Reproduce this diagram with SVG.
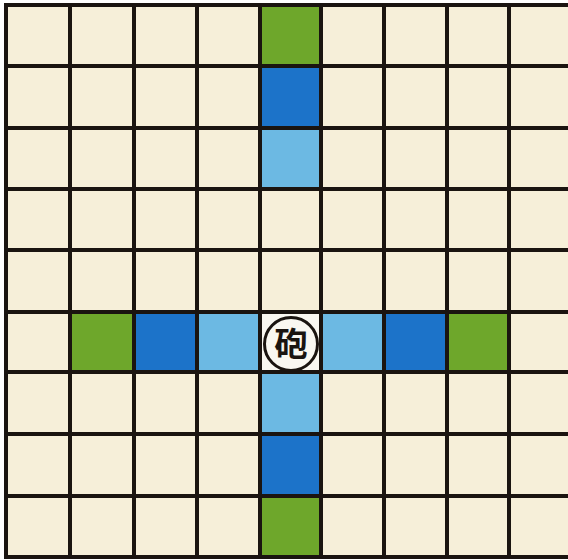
<svg xmlns="http://www.w3.org/2000/svg" width="568" height="560" viewBox="0 0 568 560">
<style>
.bg{fill:#f6efd9}
.g{fill:#6ea72b}
.d{fill:#1c73c9}
.l{fill:#6cb9e3}
.ln{stroke:#1a1410;stroke-width:4;fill:none;stroke-linecap:square}
.pc{fill:#f9f7f1;stroke:#1a1410;stroke-width:3}
.t{font-family:"Noto Sans CJK JP","Noto Sans CJK SC",sans-serif;font-weight:bold;font-size:33px;fill:#1a1410}
</style>
<rect width="568" height="560" fill="#ffffff"/>
<rect class="bg" x="6" y="5" width="562" height="552"/>
<g id="cells">
<rect class="g" x="260" y="5" width="61" height="61"/>
<rect class="d" x="260" y="66" width="61" height="62"/>
<rect class="l" x="260" y="128" width="61" height="61"/>
<rect class="g" x="70" y="312" width="64" height="60"/>
<rect class="d" x="134" y="312" width="63" height="60"/>
<rect class="l" x="197" y="312" width="63" height="60"/>
<rect fill="#f9f7f1" x="260" y="312" width="61" height="60"/>
<rect class="l" x="321" y="312" width="63" height="60"/>
<rect class="d" x="384" y="312" width="63" height="60"/>
<rect class="g" x="447" y="312" width="62" height="60"/>
<rect class="l" x="260" y="372" width="61" height="62"/>
<rect class="d" x="260" y="434" width="61" height="62"/>
<rect class="g" x="260" y="496" width="61" height="61"/>
</g>
<g id="grid">
<path class="ln" d="M6 5V557M70 5V557M134 5V557M197 5V557M260 5V557M321 5V557M384 5V557M447 5V557M509 5V557"/>
<path class="ln" d="M6 5H570M6 66H570M6 128H570M6 189H570M6 250H570M6 312H570M6 372H570M6 434H570M6 496H570M6 557H570"/>
</g>
<g id="cannon">
<circle class="pc" cx="291" cy="344" r="26.5"/>
<text class="t" x="291" y="356" text-anchor="middle">砲</text>
</g>
</svg>
